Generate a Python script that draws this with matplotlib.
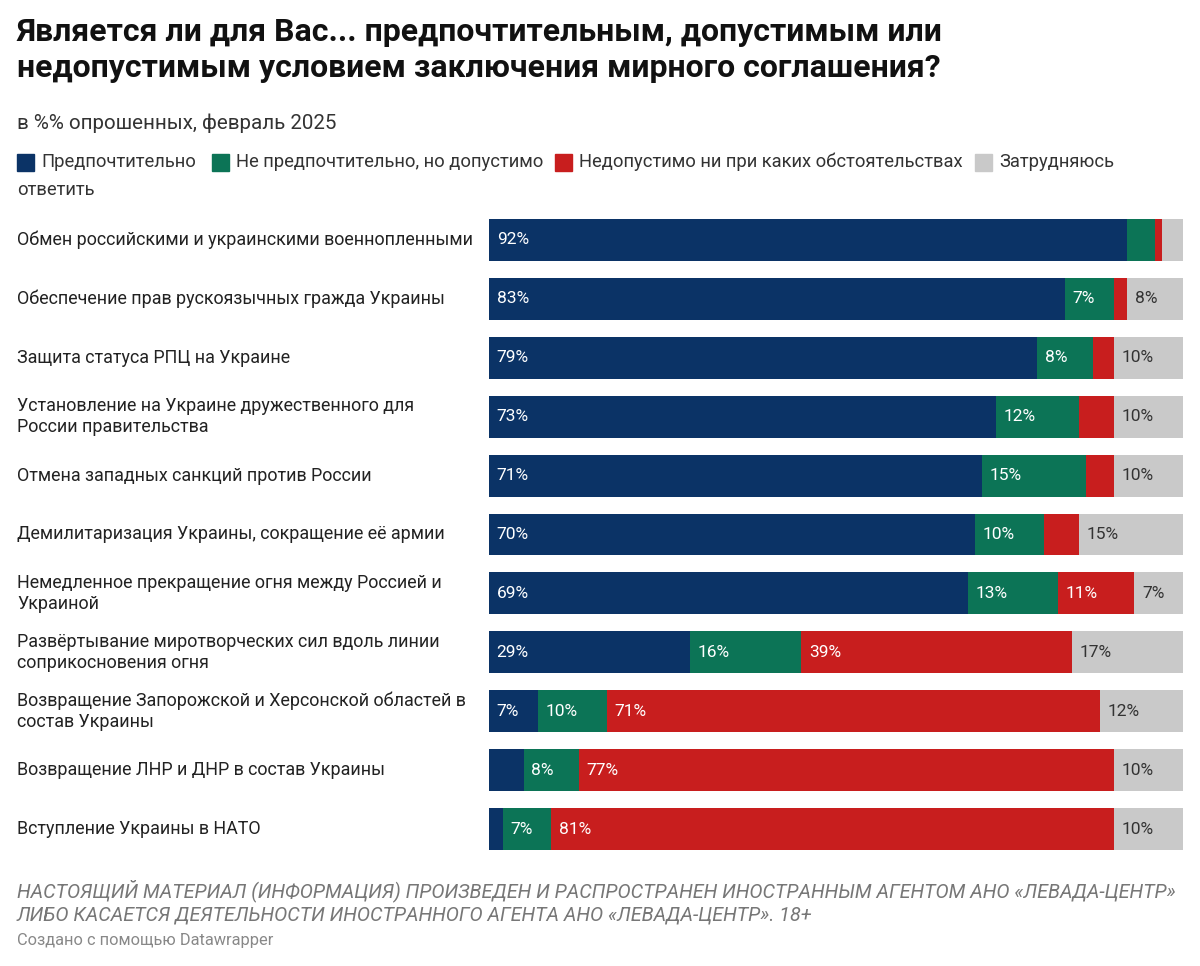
import matplotlib.pyplot as plt
from matplotlib.patches import Rectangle

plt.rcParams['font.family'] = ['Roboto', 'DejaVu Sans']

categories = [
    "Обмен российскими и украинскими военнопленными",
    "Обеспечение прав рускоязычных гражда Украины",
    "Защита статуса РПЦ на Украине",
    "Установление на Украине дружественного для\nРоссии правительства",
    "Отмена западных санкций против России",
    "Демилитаризация Украины, сокращение её армии",
    "Немедленное прекращение огня между Россией и\nУкраиной",
    "Развёртывание миротворческих сил вдоль линии\nсоприкосновения огня",
    "Возвращение Запорожской и Херсонской областей в\nсостав Украины",
    "Возвращение ЛНР и ДНР в состав Украины",
    "Вступление Украины в НАТО",
]
preferred = [92, 83, 79, 73, 71, 70, 69, 29, 7, 5, 2]
acceptable = [4, 7, 8, 12, 15, 10, 13, 16, 10, 8, 7]
unacceptable = [1, 2, 3, 5, 4, 5, 11, 39, 71, 77, 81]
hard_to_say = [3, 8, 10, 10, 10, 15, 7, 17, 12, 10, 10]

series = [
    ("Предпочтительно", preferred, "#0b3366", "white"),
    ("Не предпочтительно, но допустимо", acceptable, "#0c7456", "white"),
    ("Недопустимо ни при каких обстоятельствах", unacceptable, "#c81e1e", "white"),
    ("Затрудняюсь", hard_to_say, "#c9c9c9", "#333333"),
]

W, H = 1200, 966
fig = plt.figure(figsize=(12, 9.66), dpi=100)
ax = fig.add_axes([489 / W, 1 - 858.5 / H, (1183 - 489) / W, 648 / H])

y = range(len(categories))
left = [0] * len(categories)
for name, vals, col, tcol in series:
    ax.barh(y, vals, left=left, height=0.71, color=col, linewidth=0)
    for i, v in enumerate(vals):
        if v >= 7:
            ax.text(left[i] + 1.1, i, f"{v}%", va="center", ha="left",
                    color=tcol, fontsize=12.5)
    left = [a + b for a, b in zip(left, vals)]

ax.set_xlim(0, preferred[0] + acceptable[0] + unacceptable[0] + hard_to_say[0])
ax.set_ylim(len(categories) - 0.5, -0.5)
ax.axis("off")
label_x = -(489 - 17) / (1183 - 489)
for i, c in enumerate(categories):
    ax.text(label_x, i, c, transform=ax.get_yaxis_transform(), ha="left", va="center",
            fontsize=12.9, color="#222222", linespacing=1.25)

fig.text(17 / W, 1 - 50 / H, "Является ли для Вас... предпочтительным, допустимым или\n"
         "недопустимым условием заключения мирного соглашения?",
         fontsize=23, fontweight="bold", va="center", ha="left", linespacing=1.25,
         color="#111111")
fig.text(17 / W, 1 - 123 / H, "в %% опрошенных, февраль 2025", fontsize=14.8,
         va="center", color="#333333")

# legend
leg_x = [17, 212, 555, 975]
for (name, vals, col, tcol), x in zip(series, leg_x):
    fig.patches.append(Rectangle((x / W, 1 - 171 / H), 17 / W, 17 / H,
                                 transform=fig.transFigure, color=col))
    fig.text((x + 24) / W, 1 - 162 / H, name, fontsize=13.2, va="center", color="#333333")
fig.text(17 / W, 1 - 190 / H, "ответить", fontsize=13.2, va="center", color="#333333")

fig.text(17 / W, 1 - 902 / H,
         "НАСТОЯЩИЙ МАТЕРИАЛ (ИНФОРМАЦИЯ) ПРОИЗВЕДЕН И РАСПРОСТРАНЕН ИНОСТРАННЫМ АГЕНТОМ АНО «ЛЕВАДА-ЦЕНТР»\n"
         "ЛИБО КАСАЕТСЯ ДЕЯТЕЛЬНОСТИ ИНОСТРАННОГО АГЕНТА АНО «ЛЕВАДА-ЦЕНТР». 18+",
         fontsize=14.2, style="italic", color="#777777", va="center", linespacing=1.2)
fig.text(17 / W, 1 - 941 / H, "Создано с помощью Datawrapper", fontsize=11.8,
         color="#888888", va="center")

fig.savefig("out.png", dpi=100, facecolor="white")
